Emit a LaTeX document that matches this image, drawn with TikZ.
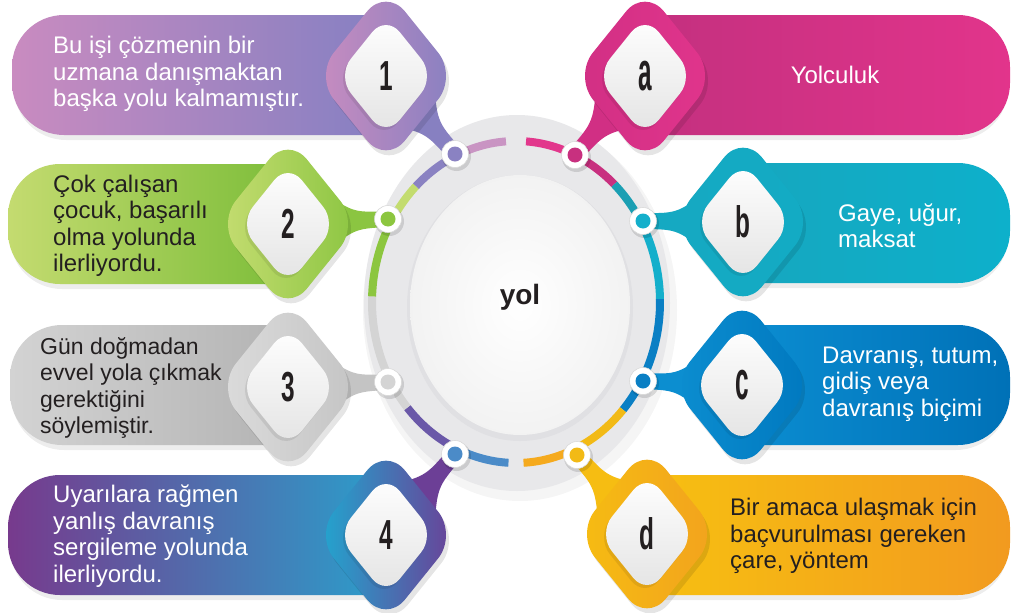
\documentclass[tikz,border=0pt]{standalone}
\usepackage{fontspec}
\setmainfont{Liberation Sans}
\usetikzlibrary{calc}
\definecolor{textdark}{HTML}{231F20}
\definecolor{bLa}{HTML}{C98BC0}\definecolor{bRa}{HTML}{8580C2}
\definecolor{bLb}{HTML}{C4DB70}\definecolor{bRb}{HTML}{7CBD39}
\definecolor{bLc}{HTML}{D3D3D3}\definecolor{bRc}{HTML}{B3B3B3}
\definecolor{bLd}{HTML}{773A8D}\definecolor{bRd}{HTML}{2B9ECB}
\definecolor{bLe}{HTML}{C3307F}\definecolor{bRe}{HTML}{E2348B}
\definecolor{bLf}{HTML}{16A7BF}\definecolor{bRf}{HTML}{0DB0CB}
\definecolor{bLg}{HTML}{0B8DD1}\definecolor{bRg}{HTML}{0071B7}
\definecolor{bLh}{HTML}{F7C011}\definecolor{bRh}{HTML}{F29A1F}
\definecolor{dLa}{HTML}{C98CC0}\definecolor{dRa}{HTML}{8780C1}
\definecolor{dLb}{HTML}{C6DD72}\definecolor{dRb}{HTML}{8BC541}
\definecolor{dLc}{HTML}{DCDCDC}\definecolor{dRc}{HTML}{C4C4C4}
\definecolor{dLd}{HTML}{1FA9D1}\definecolor{dRd}{HTML}{6C3F96}
\definecolor{dLe}{HTML}{D12F84}\definecolor{dRe}{HTML}{E1358C}
\definecolor{dLf}{HTML}{15A9C2}\definecolor{dRf}{HTML}{13ABC4}
\definecolor{dLg}{HTML}{0C8ED0}\definecolor{dRg}{HTML}{0078BF}
\definecolor{dLh}{HTML}{F6BD12}\definecolor{dRh}{HTML}{F2A21E}
\definecolor{arcAa}{HTML}{E2378C}\definecolor{arcAb}{HTML}{C8307F}
\definecolor{arcBa}{HTML}{1B9FB3}\definecolor{arcBb}{HTML}{14AFCB}
\definecolor{arcC}{HTML}{0A7FC4}
\definecolor{arcDa}{HTML}{F2BA16}\definecolor{arcDb}{HTML}{F5AA1E}
\definecolor{arcFa}{HTML}{4B8BC8}\definecolor{arcFb}{HTML}{6A58A8}
\definecolor{arcG}{HTML}{D4D4D4}
\definecolor{arcHa}{HTML}{8CC63F}\definecolor{arcHb}{HTML}{C3DC6F}
\definecolor{arcIa}{HTML}{8A82C2}\definecolor{arcIb}{HTML}{C994C3}
\definecolor{diskgray}{HTML}{E8E8EA}
\definecolor{innergray}{HTML}{E0E0E3}
\newcommand\lbanner[5]{%
 \fill[black,opacity=0.07,rounded corners=52pt] (#2,{#3+5}) -- ({#1+2},{#3+5}) -- ({#1+2},{#3+125}) -- (#2,{#3+125});
 \shade[left color=#4,right color=#5,rounded corners=52pt] (#2,#3) -- (#1,#3) -- (#1,{#3+120}) -- (#2,{#3+120});}
\newcommand\rbanner[5]{%
 \fill[black,opacity=0.07,rounded corners=52pt] (#1,{#3+5}) -- ({#2-2},{#3+5}) -- ({#2-2},{#3+125}) -- (#1,{#3+125});
 \shade[left color=#4,right color=#5,rounded corners=52pt] (#1,#3) -- (#2,#3) -- (#2,{#3+120}) -- (#1,{#3+120});}
\newcommand\neckpath[3]{%
 \coordinate (nkA) at ($(#1)!0.35!(#2)$);
 \coordinate (nkB) at ($(#1)!0.7!(#2)$);
 \fill[#3] ($(#1)!8pt!90:(#2)$) .. controls ($(nkA)!8pt!90:(#2)$) .. ($(nkB)!36pt!90:(#2)$) -- ($(nkB)!36pt!-90:(#2)$) .. controls ($(nkA)!8pt!-90:(#2)$) .. ($(#1)!8pt!-90:(#2)$) -- cycle;}
\newcommand\badge[4]{% x, y, left colour, right colour
 \fill[black,opacity=0.10,rounded corners=30pt] ({#1+3},{#2-88+5}) -- ({#1+71+3},{#2+5}) -- ({#1+3},{#2+88+5}) -- ({#1-71+3},{#2+5}) -- cycle;
 \shade[left color=#3,right color=#4,rounded corners=30pt] (#1,{#2-88}) -- ({#1+71},#2) -- (#1,{#2+88}) -- ({#1-71},#2) -- cycle;
 \fill[black,opacity=0.08,rounded corners=22pt] ({#1-2},{#2-61+3}) -- ({#1+49-2},{#2+3}) -- ({#1-2},{#2+61+3}) -- ({#1-49-2},{#2+3}) -- cycle;
 \shade[top color=white,bottom color=black!11,rounded corners=22pt] (#1,{#2-61}) -- ({#1+49},#2) -- (#1,{#2+61}) -- ({#1-49},#2) -- cycle;}
\newcommand\ringshadow[1]{\fill[black,opacity=0.12] ($(#1)+(1.5,2.5)$) circle (14.5pt);}
\begin{document}
\begin{tikzpicture}[x=1pt,y=-1pt,
  txt/.style={font=\fontsize{24}{26.5}\selectfont, align=left, inner sep=0pt, anchor=west},
  lighttxt/.style={txt, text=white},
  darktxt/.style={txt, text=textdark},
  num/.style={font=\fontsize{42}{42}\selectfont\bfseries, text=textdark, inner sep=0pt},
  ringout/.style={circle, fill=white, draw=black!15, line width=0.6pt, minimum size=27pt, inner sep=0pt},
  dot/.style={circle, minimum size=15pt, inner sep=0pt}]
\useasboundingbox (0,0) rectangle (1012,613);
\fill[white] (0,0) rectangle (1012,613);
% banners
\lbanner{12}{386}{15}{bLa}{bRa}
\lbanner{8}{288}{164}{bLb}{bRb}
\lbanner{10}{288}{325}{bLc}{bRc}
\lbanner{8}{386}{475}{bLd}{bRd}
\rbanner{645}{1010}{15}{bLe}{bRe}
\rbanner{743}{1010}{163}{bLf}{bRf}
\rbanner{742}{1010}{325}{bLg}{bRg}
\rbanner{647}{1010}{475}{bLh}{bRh}
% texts (under the badges)
\node[lighttxt] (t1) at (53,74) {Bu işi çözmenin bir\\uzmana danışmaktan\\başka yolu kalmamıştır.};
\node[darktxt] (t2) at (53,226) {Çok çalışan\\çocuk, başarılı\\olma yolunda\\ilerliyordu.};
\node[darktxt, font=\fontsize{23}{26.5}\selectfont] (t3) at (40,388) {Gün doğmadan\\evvel yola çıkmak\\gerektiğini\\söylemiştir.};
\node[lighttxt] (t4) at (53,536) {Uyarılara rağmen\\yanlış davranış\\sergileme yolunda\\ilerliyordu.};
\node[lighttxt, anchor=center] (ta) at (835,75) {Yolculuk};
\node[lighttxt] (tb) at (838,226) {Gaye, uğur,\\maksat};
\node[lighttxt] (tc) at (822,384) {Davranış, tutum,\\gidiş veya\\davranış biçimi};
\node[darktxt] (td) at (730,536) {Bir amaca ulaşmak için\\baçvurulması gereken\\çare, yöntem};
% central disk
\fill[black,opacity=0.04] (520,310) ellipse [x radius=157pt, y radius=191pt];
\fill[diskgray] (517,303) ellipse [x radius=153pt, y radius=188pt];
\fill[innergray] (520,308) ellipse [x radius=113pt, y radius=133pt];
\shade[inner color=white, outer color=black!5] (520,305) ellipse [x radius=110pt, y radius=130pt];
% ring segments
\foreach \ta/\tb/\cc in {-86/-66/arcAa, -66/-47/arcAb, -47/-30/arcBa, -30/-1/arcBb, -1/42/arcC, 42/65/arcDa, 65/87/arcDb, 93/116/arcFa, 116/139/arcFb, 139/182/arcG, 182/211/arcHa, 211/226/arcHb, 226/245/arcIa, 245/266/arcIb}
  \draw[line width=8pt, \cc] plot[domain=\ta:\tb, samples=25, smooth] ({516+144*cos(\x)}, {302+161*sin(\x)});
% anchor points
\coordinate (c1) at (386,76);  \coordinate (p1) at (455,154);
\coordinate (c2) at (288,224); \coordinate (p2) at (388,219);
\coordinate (c3) at (288,387); \coordinate (p3) at (388,382);
\coordinate (c4) at (386,535); \coordinate (p4) at (455,454);
\coordinate (ca) at (645,76);  \coordinate (pa) at (575,155);
\coordinate (cb) at (743,222); \coordinate (pb) at (643,221);
\coordinate (cc) at (742,385); \coordinate (pc) at (643,381);
\coordinate (cd) at (647,534); \coordinate (pd) at (577,455);
% necks
\neckpath{p1}{c1}{dRa}
\neckpath{p2}{c2}{dRb}
\neckpath{p3}{c3}{dRc}
\neckpath{p4}{c4}{dRd}
\neckpath{pa}{ca}{dLe}
\neckpath{pb}{cb}{dLf}
\neckpath{pc}{cc}{dLg}
\neckpath{pd}{cd}{dLh}
% badges
\badge{386}{76}{dLa}{dRa}
\badge{288}{224}{dLb}{dRb}
\badge{288}{387}{dLc}{dRc}
\badge{386}{535}{dLd}{dRd}
\badge{645}{76}{dLe}{dRe}
\badge{743}{222}{dLf}{dRf}
\badge{742}{385}{dLg}{dRg}
\badge{647}{534}{dLh}{dRh}
\node[num] (n1) at (c1) {\scalebox{0.58}[1]{1}};
\node[num] (n2) at (c2) {\scalebox{0.58}[1]{2}};
\node[num] (n3) at (c3) {\scalebox{0.58}[1]{3}};
\node[num] (n4) at (c4) {\scalebox{0.58}[1]{4}};
\node[num] (na) at (ca) {\scalebox{0.58}[1.3]{a}};
\node[num] (nb) at (cb) {\scalebox{0.58}[1.05]{b}};
\node[num] (nc) at (cc) {\scalebox{0.58}[1.3]{c}};
\node[num] (nd) at (cd) {\scalebox{0.58}[1.05]{d}};
% small rings
\foreach \p/\cl in {p1/arcIa, p2/arcHa, p3/arcG, p4/arcFa, pa/arcAb, pb/arcBb, pc/arcC, pd/arcDa}{
  \ringshadow{\p}
  \node[ringout] (r\p) at (\p) {};
  \node[dot, fill=\cl] (d\p) at (\p) {};
}
% centre label
\node[font=\fontsize{28}{28}\selectfont\bfseries, text=textdark] (yol) at (520,297) {yol};
\end{tikzpicture}
\end{document}
